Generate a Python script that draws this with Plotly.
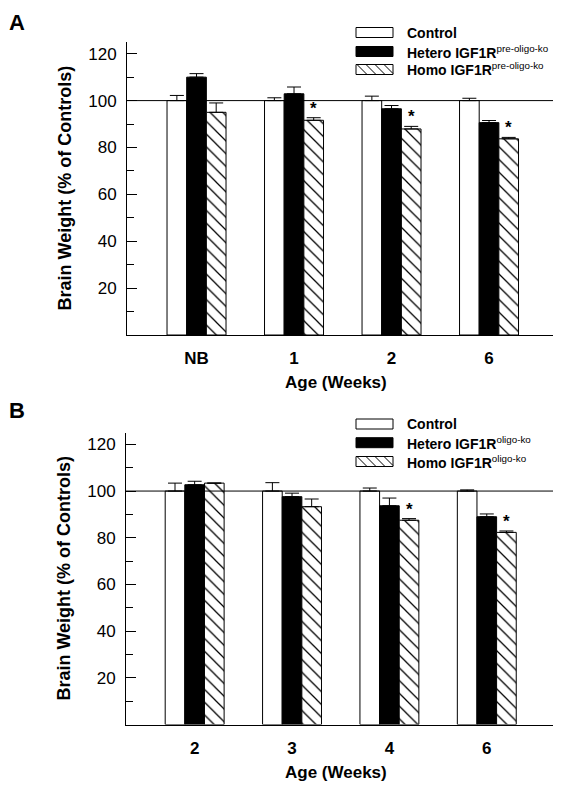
import plotly.graph_objects as go

# The page body has an 8px default margin, so the figure is drawn at (8, 8)
# in the 562x788 window: size it to fill the rest and place things in window pixels.
WIN_W, WIN_H = 562, 788
OFF = 8
W, H = WIN_W - OFF, WIN_H - OFF
FONT = "Liberation Sans, Arial, sans-serif"

# ---------------- data ----------------
cats_a = ["NB", "1", "2", "6"]
cats_b = ["2", "3", "4", "6"]
series_names = ["Control", "Hetero IGF1R", "Homo IGF1R"]
sup_a = "pre-oligo-ko"
sup_b = "oligo-ko"

control_a = [100, 100, 100, 100]
control_a_err = [2.2, 1.2, 1.9, 1.0]
hetero_a = [110.0, 102.9, 96.5, 90.6]
hetero_a_err = [1.5, 2.9, 1.4, 0.9]
homo_a = [95.0, 91.6, 87.9, 83.7]
homo_a_err = [4.0, 1.1, 1.1, 0.6]
sig_a = [False, True, True, True]

control_b = [100, 100, 100, 100]
control_b_err = [3.4, 3.6, 1.3, 0.5]
hetero_b = [102.7, 97.6, 93.7, 89.0]
hetero_b_err = [1.5, 1.5, 3.3, 1.2]
homo_b = [103.4, 93.3, 87.5, 82.3]
homo_b_err = [0.0, 3.3, 0.7, 0.6]
sig_b = [False, False, True, True]

y_ticks = [20, 40, 60, 80, 100, 120]
y_minor = [10, 30, 50, 70, 90, 110, 125]
y_max = 125
ref_value = 100
x_title = "Age (Weeks)"
y_title = "Brain Weight (% of Controls)"
panel_labels = ["A", "B"]

# ---------------- layout helpers ----------------
def px(x):
    return (x - OFF) / W

def py(y):
    return 1 - (y - OFF) / H

BARGAP = 0.395
BAR_W = (1 - BARGAP) / 3

fig = go.Figure()

hatch = dict(shape="\\", fgcolor="black", bgcolor="white", size=9, solidity=0.14, fillmode="replace")
styles = [
    dict(color="white", line=dict(color="black", width=1)),
    dict(color="black", line=dict(color="black", width=1)),
    dict(color="white", line=dict(color="black", width=1), pattern=hatch),
]

def add_panel(cats, vals, errs, xa, ya):
    for name, v, e, st in zip(series_names, vals, errs, styles):
        fig.add_trace(go.Bar(
            x=cats, y=v, name=name, xaxis=xa, yaxis=ya, showlegend=False,
            marker=st,
            error_y=dict(type="data", array=e, arrayminus=[0] * len(e), symmetric=False,
                         color="black", thickness=1, width=7),
        ))

add_panel(cats_a, [control_a, hetero_a, homo_a], [control_a_err, hetero_a_err, homo_a_err], "x", "y")
add_panel(cats_b, [control_b, hetero_b, homo_b], [control_b_err, hetero_b_err, homo_b_err], "x2", "y2")

# geometry of panels (window pixels)
panels = [
    dict(x0=127, x1=553, ytop=42, ybot=335, xr=[-0.713, 3.656], xa="x", ya="y",
         homo=homo_a, herr=homo_a_err, sig=sig_a, sup=sup_a,
         leg_y=[32.5, 51.5, 69.5], title_y=382, letter_top=8.5),
    dict(x0=126, x1=553, ytop=432.7, ybot=724.5, xr=[-0.705, 3.68], xa="x2", ya="y2",
         homo=homo_b, herr=homo_b_err, sig=sig_b, sup=sup_b,
         leg_y=[424, 442.7, 461.5], title_y=772, letter_top=396),
]

layout_axes = {}
annotations = []
shapes = []
for i, p in enumerate(panels):
    sfx = "" if i == 0 else "2"
    layout_axes["xaxis" + sfx] = dict(
        domain=[px(p["x0"]), px(p["x1"])], anchor="y" + sfx, type="category",
        range=p["xr"], showline=True, linecolor="black", linewidth=1,
        ticks="", showgrid=False, zeroline=False,
        tickfont=dict(family=FONT, size=17, color="black", weight="bold"),
        ticklabelstandoff=8,
    )
    layout_axes["yaxis" + sfx] = dict(
        domain=[py(p["ybot"]), py(p["ytop"])], anchor="x" + sfx,
        range=[0, y_max], showline=True, linecolor="black", linewidth=1,
        tickmode="array", tickvals=y_ticks, ticks="inside", ticklen=10,
        tickcolor="black", tickwidth=1, showgrid=False, zeroline=False,
        tickfont=dict(family=FONT, size=17, color="black"),
        ticklabelstandoff=6,
        minor=dict(tickmode="array", tickvals=y_minor, ticks="inside", ticklen=7,
                   tickcolor="black", tickwidth=1, showgrid=False),
    )
    # reference line at 100
    shapes.append(dict(type="line", xref=p["xa"] + " domain", yref=p["ya"],
                       x0=0, x1=1, y0=ref_value, y1=ref_value,
                       line=dict(color="black", width=1), layer="above"))
    # significance asterisks above homo bars
    for k, (flag, v, e) in enumerate(zip(p["sig"], p["homo"], p["herr"])):
        if flag:
            annotations.append(dict(x=k + BAR_W, y=v + e, xref=p["xa"], yref=p["ya"],
                                    text="*", showarrow=False, xanchor="center",
                                    yanchor="bottom", yshift=-2,
                                    font=dict(family=FONT, size=17, color="black", weight="bold")))
    # axis titles
    annotations.append(dict(x=px(336), y=py(p["title_y"]), xref="paper", yref="paper",
                            text="<b>" + x_title + "</b>", showarrow=False,
                            xanchor="center", yanchor="middle",
                            font=dict(family=FONT, size=17, color="black")))
    annotations.append(dict(x=px(64), y=py((p["ytop"] + p["ybot"]) / 2), xref="paper", yref="paper",
                            text="<b>" + y_title + "</b>", showarrow=False, textangle=-90,
                            xanchor="center", yanchor="middle",
                            font=dict(family=FONT, size=18, color="black")))
    # panel letter
    annotations.append(dict(x=px(17), y=py(p["letter_top"]), xref="paper", yref="paper",
                            text="<b>" + panel_labels[i] + "</b>", showarrow=False,
                            xanchor="center", yanchor="top",
                            font=dict(family=FONT, size=22, color="black")))
    # legend (manual, swatch + label)
    bx0, bx1, bh = 356, 393, 10
    for j, (name, ly) in enumerate(zip(series_names, p["leg_y"])):
        fill = "black" if j == 1 else "white"
        shapes.append(dict(type="rect", xref="paper", yref="paper",
                           x0=px(bx0), x1=px(bx1), y0=py(ly + bh / 2), y1=py(ly - bh / 2),
                           fillcolor=fill, line=dict(color="black", width=1)))
        if j == 2:
            path = ""
            for sx in [bx0 + 1, bx0 + 10, bx0 + 19, bx0 + 28]:
                x_end = min(sx + bh, bx1)
                yy_end = ly - bh / 2 + (x_end - sx)
                path += f"M{px(sx)},{py(ly - bh / 2)} L{px(x_end)},{py(yy_end)} "
            shapes.append(dict(type="path", xref="paper", yref="paper", path=path,
                               line=dict(color="black", width=1)))
        label = "<b>" + name + "</b>"
        if j > 0:
            label += "<sup>" + p["sup"] + "</sup>"
        annotations.append(dict(x=px(405), y=py(ly), xref="paper", yref="paper",
                                text=label, showarrow=False, xanchor="left", yanchor="middle",
                                font=dict(family=FONT, size=14, color="black")))

fig.update_layout(
    width=W, height=H, margin=dict(l=0, r=0, t=0, b=0),
    paper_bgcolor="white", plot_bgcolor="white",
    barmode="group", bargap=BARGAP, bargroupgap=0,
    showlegend=False, annotations=annotations, shapes=shapes,
    **layout_axes,
)

fig.write_html("out.html")
